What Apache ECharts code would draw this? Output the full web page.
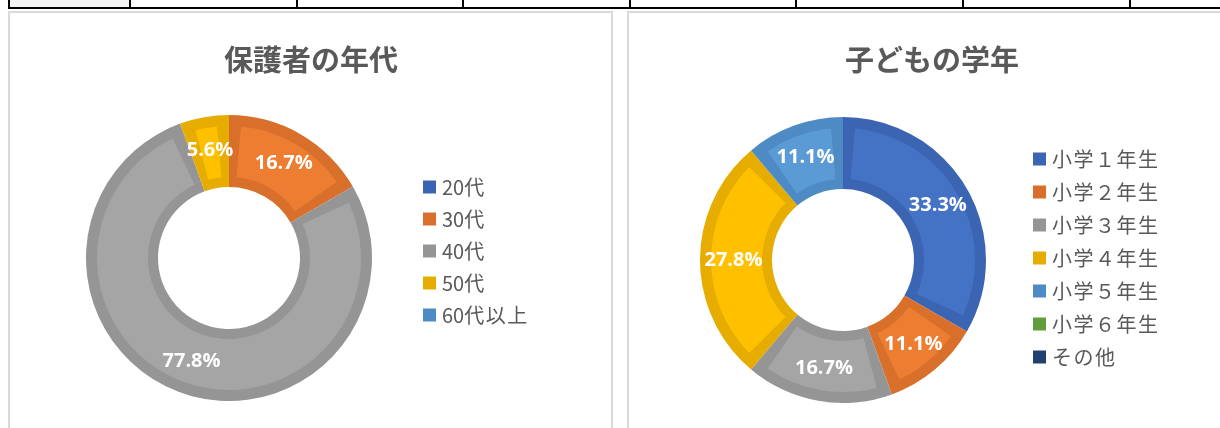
<!DOCTYPE html>
<html>
<head>
<meta charset="utf-8">
<script src="https://cdn.jsdelivr.net/npm/echarts@6/dist/echarts.min.js"></script>
<style>
html, body { margin: 0; padding: 0; background: #fff; }
#main { width: 1220px; height: 428px; }
</style>
</head>
<body>
<div id="main"></div>
<script>
// 保護者の年代
const parentAges = ['20代', '30代', '40代', '50代', '60代以上'];
const parentCounts = [0, 3, 14, 1, 0];

// 子どもの学年
const grades = ['小学１年生', '小学２年生', '小学３年生', '小学４年生', '小学５年生', '小学６年生', 'その他'];
const gradeCounts = [6, 2, 3, 5, 2, 0, 0];

// excel office palette, fill + darker outline
const fillColors = ['#4472C4', '#ED7D31', '#A5A5A5', '#FFC000', '#5B9BD5', '#70AD47', '#264478'];
const edgeColors = ['#3b65b3', '#d8702b', '#959595', '#e6ad00', '#4e8bc4', '#609c3c', '#22406f'];

const jpFont = '"Noto Sans CJK JP", "Noto Sans", sans-serif';

function donut(names, counts, center) {
    const total = counts.reduce((a, b) => a + b, 0);
    // outline layer (full slices, dark colour)
    const base = {
        type: 'pie',
        center: center,
        radius: [71, 143],
        startAngle: 90,
        silent: true,
        label: { show: false },
        labelLine: { show: false },
        data: names.map((n, i) => ({ name: n, value: counts[i], itemStyle: { color: edgeColors[i] } }))
    };
    // inner fill layer, gaps let the outline show through
    const top = {
        type: 'pie',
        center: center,
        radius: [81, 132],
        startAngle: 90,
        padAngle: 10.5,
        silent: true,
        label: {
            show: true,
            position: 'inside',
            color: '#fff',
            fontWeight: 'bold',
            fontSize: 20,
            fontFamily: '"Open Sans", sans-serif',
            formatter: p => (p.value / total * 100).toFixed(1) + '%'
        },
        labelLine: { show: false },
        data: names.map((n, i) => ({ name: n, value: counts[i], itemStyle: { color: fillColors[i] } }))
            .filter(d => d.value > 0)
    };
    return [base, top];
}

// legend text, kana/kanji get a hair of extra spacing like excel
const txt = { color: '#595959', fontSize: 20, lineHeight: 20, fontFamily: jpFont };
const wide = Object.assign({}, txt, { padding: [0, 1.5, 0, 0] });

function legendFor(names, left, top, gap) {
    return {
        data: names,
        orient: 'vertical',
        left: left,
        top: top,
        padding: 0,
        itemWidth: 13,
        itemHeight: 13,
        itemGap: gap,
        selectedMode: false,
        icon: 'rect',
        formatter: name => name.split('').map(ch =>
            /[0-9]/.test(ch) ? '{n|' + ch + '}' : '{s|' + ch + '}').join(''),
        textStyle: Object.assign({}, txt, { padding: [0, 0, 0, 1], rich: { s: wide, n: txt } })
    };
}

const titleStyle = { color: '#595959', fontSize: 29, fontWeight: 'bold', fontFamily: jpFont };

// spreadsheet grid strip above the charts
const gridX = [9, 130, 297, 463, 630, 796, 963, 1130];
const gridLines = gridX.map(x => ({
    type: 'line', shape: { x1: x, y1: 0, x2: x, y2: 8 }, style: { stroke: '#000', lineWidth: 2 }
}));

const chart = echarts.init(document.getElementById('main'));
chart.setOption({
    backgroundColor: '#fff',
    animation: false,
    graphic: {
        elements: [
            { type: 'rect', shape: { x: 10, y: 0, width: 119, height: 7 }, style: { fill: '#f2f2f2' } },
            ...gridLines,
            { type: 'line', shape: { x1: 8, y1: 8, x2: 1220, y2: 8 }, style: { stroke: '#000', lineWidth: 2 } },
            { type: 'rect', shape: { x: 9, y: 12, width: 603, height: 430 }, style: { fill: '#fff', stroke: '#d9d9d9', lineWidth: 2 } },
            { type: 'rect', shape: { x: 628, y: 12, width: 610, height: 430 }, style: { fill: '#fff', stroke: '#d9d9d9', lineWidth: 2 } }
        ]
    },
    title: [
        { text: '保護者の年代', left: 224, top: 45, padding: 0, textStyle: titleStyle },
        { text: '子どもの学年', left: 845, top: 45, padding: 0, textStyle: titleStyle }
    ],
    legend: [
        legendFor(parentAges, 423, 177, 12),
        legendFor(grades, 1033, 149, 13)
    ],
    series: [
        ...donut(parentAges, parentCounts, [229, 258]),
        ...donut(grades, gradeCounts, [843, 260])
    ]
});
</script>
</body>
</html>
